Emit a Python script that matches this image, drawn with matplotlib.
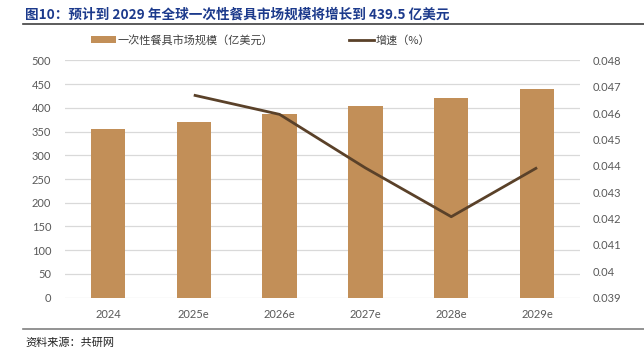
import matplotlib
matplotlib.use("Agg")
import matplotlib.pyplot as plt
from matplotlib.lines import Line2D
from matplotlib.patches import Patch
import numpy as np

plt.rcParams['font.family'] = ['Lato', 'Noto Sans CJK SC', 'DejaVu Sans']

categories = ["2024", "2025e", "2026e", "2027e", "2028e", "2029e"]
market_size = [354.4, 369.8, 387.1, 404.3, 421.5, 439.5]
growth = [None, 0.04668, 0.04595, 0.04392, 0.04207, 0.04393]
left_ticks = [0, 50, 100, 150, 200, 250, 300, 350, 400, 450, 500]
right_ticks = [0.039, 0.04, 0.041, 0.042, 0.043, 0.044, 0.045, 0.046, 0.047, 0.048]
right_labels = ["0.039", "0.04", "0.041", "0.042", "0.043", "0.044", "0.045", "0.046", "0.047", "0.048"]

title = "图10：预计到 2029 年全球一次性餐具市场规模将增长到 439.5 亿美元"
bar_label = "一次性餐具市场规模（亿美元）"
line_label = "增速（%）"
source = "资料来源：共研网"

bar_color = "#C28F58"
line_color = "#5A4129"
tick_color = "#595959"

fig = plt.figure(figsize=(6.44, 3.57), dpi=100)
ax = fig.add_axes([65/644, 1-297.7/357, (580-65)/644, (297.7-60.3)/357])
ax2 = ax.twinx()

x = np.arange(len(categories))
ax.bar(x, market_size, width=0.4, color=bar_color, zorder=2)
ax.set_xlim(-0.5, len(categories)-0.5)
ax.set_ylim(0, 500)
ax.set_yticks(left_ticks)
ax.yaxis.grid(True, color="#D9D9D9", linewidth=0.9, zorder=0)
ax.set_axisbelow(True)
ax.set_xticks(x)
ax.set_xticklabels(categories)
ax.tick_params(axis='both', length=0, labelsize=8, labelcolor=tick_color)
ax.tick_params(axis='y', pad=10)
ax.tick_params(axis='x', pad=8)
for s in ax.spines.values():
    s.set_visible(False)

gx = [i for i, g in enumerate(growth) if g is not None]
gy = [g for g in growth if g is not None]
ax2.plot(gx, gy, color=line_color, linewidth=2, solid_capstyle='butt', zorder=3)
ax2.set_ylim(0.039, 0.048)
ax2.set_yticks(right_ticks)
ax2.set_yticklabels(right_labels)
ax2.tick_params(axis='y', length=0, labelsize=8, labelcolor=tick_color, pad=9)
for s in ax2.spines.values():
    s.set_visible(False)

# Title
fig.text(25/644, 1-15/357, title, fontsize=9.8, fontweight='bold', color="#1C3A8C",
         family=['Noto Sans CJK SC', 'DejaVu Sans'], va='center', ha='left')
fig.add_artist(Line2D([23/644, 1.0], [1-24/357, 1-24/357], color="#404040", linewidth=1.2))

# Legend
handles = [Patch(facecolor=bar_color, edgecolor='none', label=bar_label),
           Line2D([0], [0], color=line_color, linewidth=2, label=line_label)]
leg = fig.legend(handles=handles, loc='center', bbox_to_anchor=(0.405, 1-40/357), ncol=2,
                 frameon=False, prop={'family': ['Noto Sans CJK SC'], 'size': 8},
                 handlelength=2.2, handleheight=0.6, columnspacing=6.8, handletextpad=0.2,
                 labelcolor="#404040")

# Bottom rule and source
fig.add_artist(Line2D([23/644, 1.0], [1-329/357, 1-329/357], color="#808080", linewidth=1.2))
fig.text(25/644, 1-343/357, source, fontsize=8, color="#222222",
         family=['Noto Sans CJK SC', 'DejaVu Sans'], va='center', ha='left')

fig.savefig("out.png", dpi=100)
